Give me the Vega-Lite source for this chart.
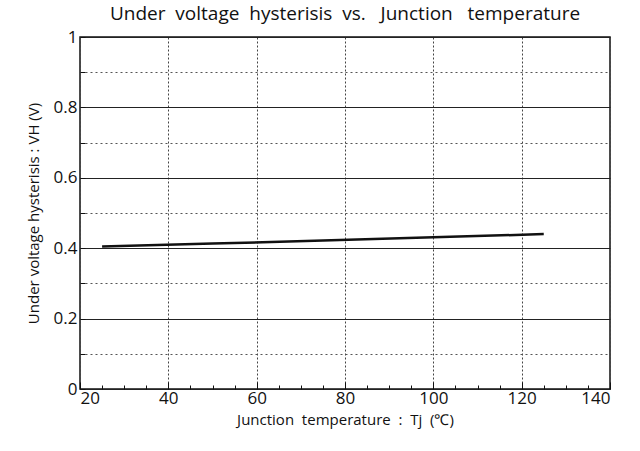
{
  "$schema": "https://vega.github.io/schema/vega-lite/v6.json",
  "width": 530,
  "height": 352,
  "autosize": {"type": "none"},
  "padding": {"left": 80, "top": 37, "right": 30, "bottom": 62},
  "background": "white",
  "config": {
    "font": "Open Sans",
    "view": {"stroke": "#111", "strokeWidth": 1.5}
  },
  "title": {
    "text": "Under\u00a0 voltage\u00a0 hysterisis\u00a0 vs.\u00a0\u00a0 Junction\u00a0\u00a0 temperature",
    "fontSize": 19,
    "fontWeight": "normal",
    "color": "#111",
    "offset": 4,
    "anchor": "middle"
  },
  "data": {
    "values": [
      {"tj": 25, "vh": 0.405},
      {"tj": 50, "vh": 0.413},
      {"tj": 75, "vh": 0.422},
      {"tj": 100, "vh": 0.431},
      {"tj": 125, "vh": 0.44}
    ]
  },
  "mark": {"type": "line", "color": "#111", "strokeWidth": 2.5},
  "encoding": {
    "x": {
      "field": "tj",
      "type": "quantitative",
      "scale": {"domain": [20, 140], "nice": false},
      "axis": {
        "title": "Junction\u00a0 temperature\u00a0 :\u00a0 Tj\u00a0 (℃)",
        "titleFontSize": 15,
        "titleFontWeight": "normal",
        "titleColor": "#111",
        "titlePadding": 6,
        "values": [20,25,30,35,40,45,50,55,60,65,70,75,80,85,90,95,100,105,110,115,120,125,130,135,140],
        "labelExpr": "datum.value % 20 == 0 ? datum.label : ''",
        "labelFontSize": 17,
        "labelColor": "#111",
        "labelPadding": 8,
        "domain": false,
        "tickColor": "#111",
        "tickSize": {"condition": {"test": "datum.value % 20 == 0", "value": -7}, "value": -4},
        "grid": true,
        "gridColor": "#444",
        "gridDash": [2, 2],
        "gridOpacity": {"condition": {"test": "datum.value % 20 == 0", "value": 1}, "value": 0}
      }
    },
    "y": {
      "field": "vh",
      "type": "quantitative",
      "scale": {"domain": [0, 1], "nice": false},
      "axis": {
        "title": "Under voltage hysterisis : VH (V)",
        "titleFontSize": 15,
        "titleFontWeight": "normal",
        "titleColor": "#111",
        "titlePadding": 12,
        "values": [0,0.1,0.2,0.3,0.4,0.5,0.6,0.7,0.8,0.9,1],
        "format": "~g",
        "labelExpr": "round(datum.value*10) % 2 == 0 ? datum.label : ''",
        "labelFontSize": 17,
        "labelColor": "#111",
        "labelPadding": 8,
        "domain": false,
        "tickColor": "#111",
        "tickSize": -5,
        "grid": true,
        "gridColor": {"condition": {"test": "round(datum.value*10) % 2 == 0", "value": "#222"}, "value": "#555"},
        "gridDash": {"condition": {"test": "round(datum.value*10) % 2 == 0", "value": []}, "value": [2, 3]}
      }
    }
  }
}
